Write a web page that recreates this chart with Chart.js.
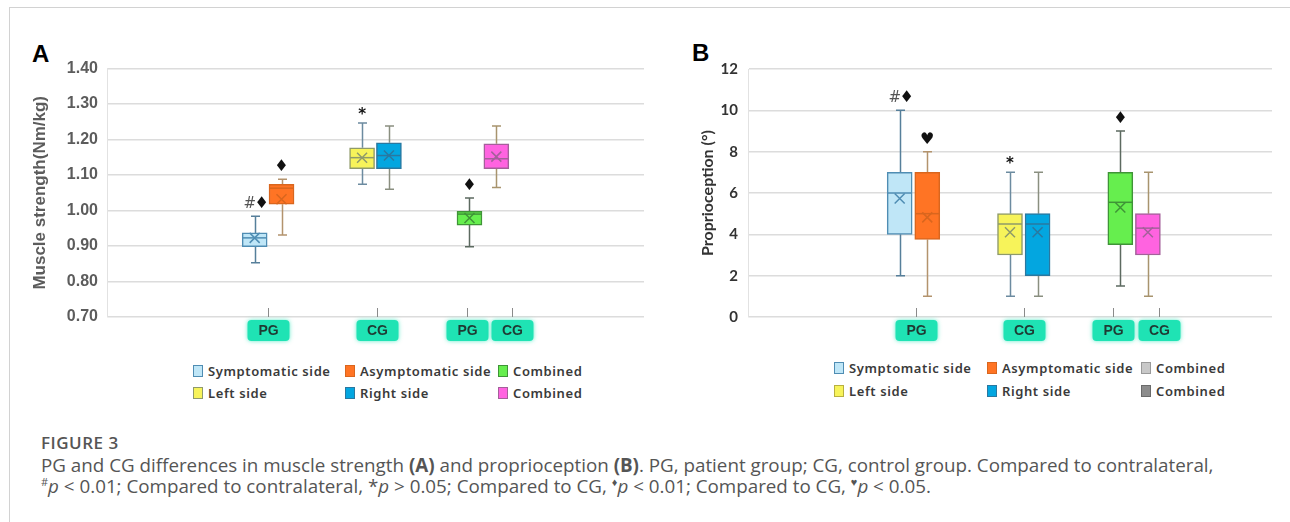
<!DOCTYPE html>
<html>
<head>
<meta charset="utf-8">
<script src="https://cdn.jsdelivr.net/npm/chart.js@4.4.1/dist/chart.umd.min.js"></script>
<style>
  body { margin: 0; width: 1290px; height: 522px; background: #fff; position: relative; overflow: hidden; }
  #frame { position: absolute; left: 9px; top: 7px; width: 1300px; height: 530px; border-left: 1px solid #d2d2d2; border-top: 1px solid #d2d2d2; }
  .plabel { position: absolute; font: bold 24px "Liberation Sans", Arial, sans-serif; color: #000; }
  .wrap { position: absolute; }
  .leg { position: absolute; font: 600 13px "Noto Sans", sans-serif; letter-spacing: 0.6px; color: #3a3a3a; white-space: nowrap; line-height: 16px; }
  .leg i { display: inline-block; width: 8px; height: 10px; border: 1px solid; vertical-align: -1px; margin-right: 5px; }
  #cap { position: absolute; left: 41px; top: 432px; font-family: "Open Sans", sans-serif; color: #555; }
  #cap .fig { font-size: 17px; font-weight: 600; letter-spacing: 0.5px; line-height: 21px; margin-bottom: 2px; }
  #cap .line { font-size: 18.8px; line-height: 21px; white-space: nowrap; }
  #cap sup { font-size: 11px; vertical-align: 7px; line-height: 0; }
</style>
</head>
<body>
<div id="frame"></div>
<div class="plabel" style="left:32px;top:40px">A</div>
<div class="plabel" style="left:692px;top:39px">B</div>
<div class="wrap" style="left:10px;top:50px"><canvas id="chartA" width="650" height="300"></canvas></div>
<div class="wrap" style="left:680px;top:50px"><canvas id="chartB" width="600" height="300"></canvas></div>
<div id="legA"></div>
<div id="legB"></div>
<div id="cap">
  <div class="fig">FIGURE 3</div>
  <div class="line">PG and CG differences in muscle strength <b>(A)</b> and proprioception <b>(B)</b>. PG, patient group; CG, control group. Compared to contralateral,</div>
  <div class="line"><sup>#</sup><i>p</i> &lt; 0.01; Compared to contralateral, *<i>p</i> &gt; 0.05; Compared to CG, <sup>&#9830;</sup><i>p</i> &lt; 0.01; Compared to CG, <sup>&#9829;</sup><i>p</i> &lt; 0.05.</div>
</div>
<script>
// series, in drawing order
const series = ['Symptomatic side', 'Asymptomatic side', 'Left side', 'Right side', 'Combined', 'Combined'];
const groupTags = ['PG', 'CG', 'PG', 'CG'];

// A: muscle strength (Nm/kg)
const minA  = [0.853, 0.931, 1.074, 1.060, 0.898, 1.065];
const q1A   = [0.898, 1.018, 1.118, 1.118, 0.959, 1.118];
const medA  = [0.923, 1.063, 1.149, 1.155, 0.990, 1.146];
const q3A   = [0.937, 1.074, 1.177, 1.191, 0.998, 1.188];
const maxA  = [0.984, 1.088, 1.247, 1.238, 1.035, 1.238];
const meanA = [0.923, 1.032, 1.149, 1.155, 0.979, 1.152];
const marksA = ['#\u2666', '\u2666', '*', '', '\u2666', ''];
const ticksA = [0.70, 0.80, 0.90, 1.00, 1.10, 1.20, 1.30, 1.40];

// B: proprioception (degrees)
const minB  = [2, 1, 1, 1, 1.5, 1];
const q1B   = [4, 3.75, 3, 2, 3.5, 3];
const medB  = [6, 5, 4.5, 4.5, 5.55, 4.3];
const q3B   = [7, 7, 5, 5, 7, 5];
const maxB  = [10, 8, 7, 7, 9, 7];
const meanB = [5.73, 4.82, 4.1, 4.1, 5.3, 4.1];
const marksB = ['#\u2666', '\u2665', '*', '', '\u2666', ''];
const ticksB = [0, 2, 4, 6, 8, 10, 12];

// layout on the x scale (slots)
const slots = [5.5, 6.5, 9.5, 10.5, 13.5, 14.5];
const tagPosA = [6.0, 10.05, 13.4, 15.1];
const tagPosB = [6.1, 10.0, 13.25, 14.9];

const fills   = ['#bfe6f7', '#ff7424', '#f7f35a', '#03a6e0', '#66ee4e', '#ff63e0'];
const borders = ['#4f8db3', '#d9661e', '#8f9a6a', '#2a78a0', '#3f9437', '#a4609a'];
const whisk   = ['#567f9a', '#b3936d', '#6c8ba0', '#8a8f80', '#5c6a60', '#a8946e'];
const legFillB = ['#bfe6f7', '#ff7424', '#f7f35a', '#03a6e0', '#c8c8c8', '#8c8c8c'];
const legBorderB = ['#4f8db3', '#d9661e', '#b8b040', '#2a78a0', '#9a9a9a', '#6a6a6a'];

function boxPlugin(d) {
  return {
    id: 'boxes',
    beforeDatasetsDraw(chart) {
      const { ctx, scales: { x, y } } = chart;
      ctx.save();
      ctx.lineWidth = 1.5;
      slots.forEach((p, i) => {
        const px = Math.round(x.getPixelForValue(p)) + 0.5;
        ctx.strokeStyle = whisk[i];
        ctx.beginPath();
        ctx.moveTo(px, y.getPixelForValue(d.max[i]));
        ctx.lineTo(px, y.getPixelForValue(d.q3[i]));
        ctx.moveTo(px, y.getPixelForValue(d.q1[i]));
        ctx.lineTo(px, y.getPixelForValue(d.min[i]));
        [d.max[i], d.min[i]].forEach(v => {
          const py = y.getPixelForValue(v);
          ctx.moveTo(px - 4.5, py); ctx.lineTo(px + 4.5, py);
        });
        ctx.stroke();
      });
      ctx.restore();
    },
    afterDatasetsDraw(chart) {
      const { ctx, scales: { x, y } } = chart;
      ctx.save();
      slots.forEach((p, i) => {
        const px = x.getPixelForValue(p);
        ctx.strokeStyle = borders[i];
        ctx.lineWidth = 1.5;
        const pm = y.getPixelForValue(d.med[i]);
        ctx.beginPath();
        ctx.moveTo(px - 12, pm); ctx.lineTo(px + 12, pm);
        ctx.stroke();
        const pa = y.getPixelForValue(d.mean[i]);
        ctx.beginPath();
        ctx.moveTo(px - 5, pa - 5); ctx.lineTo(px + 5, pa + 5);
        ctx.moveTo(px + 5, pa - 5); ctx.lineTo(px - 5, pa + 5);
        ctx.stroke();
        const m = d.marks[i];
        if (!m) return;
        const top = y.getPixelForValue(d.max[i]);
        ctx.textAlign = 'center';
        ctx.textBaseline = 'middle';
        if (m.length > 1) {
          ctx.fillStyle = '#555';
          ctx.font = '15px "DejaVu Sans", sans-serif';
          ctx.fillText(m[0], px - 5, top - 12);
          ctx.fillStyle = '#111';
          ctx.font = '16px "DejaVu Sans", sans-serif';
          ctx.fillText(m[1], px + 7, top - 12);
        } else {
          ctx.fillStyle = '#111';
          ctx.font = (m === '*' ? 'bold 15px' : '16px') + ' "DejaVu Sans", sans-serif';
          ctx.fillText(m, px, top - (m === '*' ? 8 : 12));
        }
      });
      ctx.restore();
    },
    afterDraw(chart) {
      const { ctx, chartArea: a, scales: { x } } = chart;
      ctx.save();
      groupTags.forEach((t, i) => {
        const px = Math.round(x.getPixelForValue(d.tagPos[i])) + 0.5;
        ctx.strokeStyle = '#8a8a8a';
        ctx.lineWidth = 1;
        ctx.beginPath();
        ctx.moveTo(px, a.bottom - 9); ctx.lineTo(px, a.bottom);
        ctx.stroke();
        ctx.shadowColor = 'rgba(30,227,180,0.7)';
        ctx.shadowBlur = 4;
        ctx.fillStyle = '#1fe3b4';
        ctx.beginPath();
        ctx.roundRect(px - 21, a.bottom + 3, 42, 21, 4);
        ctx.fill();
        ctx.shadowBlur = 0;
        ctx.fillStyle = '#1f3a33';
        ctx.font = 'bold 14px "Liberation Sans", Arial, sans-serif';
        ctx.textAlign = 'center';
        ctx.textBaseline = 'middle';
        ctx.fillText(t, px, a.bottom + 14);
      });
      ctx.restore();
    }
  };
}

function makeChart(id, d) {
  return new Chart(document.getElementById(id), {
    type: 'bar',
    data: {
      datasets: [{
        data: slots.map((p, i) => ({ x: p, y: [d.q1[i], d.q3[i]] })),
        backgroundColor: fills,
        borderColor: borders,
        borderWidth: 1.5,
        borderSkipped: false,
        barThickness: 25
      }]
    },
    options: {
      responsive: false,
      animation: false,
      events: [],
      layout: { padding: d.pad },
      plugins: { legend: { display: false }, tooltip: { enabled: false } },
      scales: {
        x: {
          type: 'linear', min: 0, max: d.xMax, offset: false,
          grid: { display: false }, border: { display: false },
          ticks: { display: false },
          afterFit(s) { s.height = 33; }
        },
        y: {
          min: d.ticks[0], max: d.ticks[d.ticks.length - 1],
          afterBuildTicks(s) { s.ticks = d.ticks.map(v => ({ value: v })); },
          ticks: { callback: d.fmt, padding: d.tickPad, color: d.tickColor, font: d.tickFont },
          grid: { color: '#dcdcdc', lineWidth: 1.5, drawTicks: false },
          border: { color: '#e2e2e2', width: 1 },
          title: { display: true, text: d.title, color: d.titleColor, font: d.titleFont, padding: { top: d.titleTop, bottom: 0 } },
          afterFit(s) { s.width = d.yWidth; }
        }
      }
    },
    plugins: [boxPlugin(d)]
  });
}

makeChart('chartA', {
  min: minA, q1: q1A, med: medA, q3: q3A, max: maxA, mean: meanA, marks: marksA,
  ticks: ticksA, tagPos: tagPosA, xMax: 20,
  pad: { top: 16, right: 16, left: 0, bottom: 0 }, yWidth: 97, tickPad: 9,
  fmt: v => v.toFixed(2), tickColor: '#5c5c5c',
  tickFont: { family: "'Liberation Sans', Arial, sans-serif", size: 16, weight: 'bold' },
  title: 'Muscle strength(Nm/kg)', titleColor: '#5c5c5c', titleTop: 20,
  titleFont: { family: "'Liberation Sans', Arial, sans-serif", size: 17, weight: 'bold' }
});

makeChart('chartB', {
  min: minB, q1: q1B, med: medB, q3: q3B, max: maxB, mean: meanB, marks: marksB,
  ticks: ticksB, tagPos: tagPosB, xMax: 19,
  pad: { top: 18, right: 8, left: 0, bottom: 0 }, yWidth: 68, tickPad: 10,
  fmt: v => String(v), tickColor: '#333',
  tickFont: { family: 'Lato, sans-serif', size: 15, weight: 'bold' },
  title: 'Proprioception (\u00b0)', titleColor: '#333', titleTop: 18,
  titleFont: { family: 'Lato, sans-serif', size: 16, weight: 'bold' }
});

// legends (3 columns x 2 rows)
const legOrder = [0, 1, 4, 2, 3, 5];
function legend(id, cols, rows, fl, bd) {
  const el = document.getElementById(id);
  legOrder.forEach((s, k) => {
    const it = document.createElement('div');
    it.className = 'leg';
    it.style.left = (cols[k % 3] - 5) + 'px';
    it.style.top = (rows[Math.floor(k / 3)] - 8) + 'px';
    it.innerHTML = '<i style="background:' + fl[s] + ';border-color:' + bd[s] + '"></i>' + series[s];
    el.appendChild(it);
  });
}
legend('legA', [198, 350, 503], [371, 393], fills, borders);
legend('legB', [839, 992, 1146], [368, 391], legFillB, legBorderB);
</script>
</body>
</html>
